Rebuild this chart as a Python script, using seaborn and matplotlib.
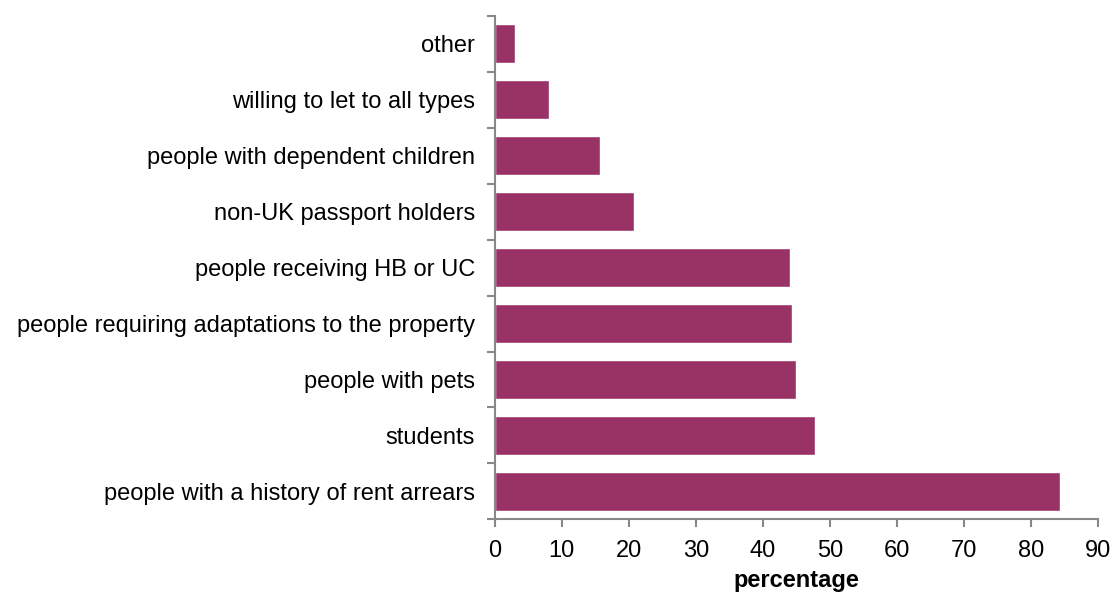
import matplotlib
matplotlib.use("Agg")
import matplotlib.pyplot as plt
import seaborn as sns
import pandas as pd
import numpy as np

categories = ["other", "willing to let to all types", "people with dependent children",
              "non-UK passport holders", "people receiving HB or UC",
              "people requiring adaptations to the property", "people with pets",
              "students", "people with a history of rent arrears"]
values = [3.0, 8.1, 15.7, 20.7, 44.0, 44.4, 44.9, 47.8, 84.3]
xticks = [0, 10, 20, 30, 40, 50, 60, 70, 80, 90]

sns.set_theme(style="white")
plt.rcParams['font.family'] = ['Liberation Sans', 'DejaVu Sans']

df = pd.DataFrame({"category": categories, "value": values})

fs = 17
fig = plt.figure(figsize=(11.12, 5.95), dpi=100)
ax = fig.add_axes([0.445, 0.127, 0.5424, 0.8466])
sns.barplot(data=df, x="value", y="category", orient="h", color="#993366",
            saturation=1, width=0.7, ax=ax)
ax.set_xlim(0, 90)
ax.set_ylim(len(categories) - 0.5, -0.5)
ax.set_xticks(xticks)
ax.set_xticklabels([str(t) for t in xticks], fontsize=fs, color="black")
ax.set_xlabel("percentage", fontsize=fs, fontweight="bold", color="black", labelpad=5)
ax.set_ylabel("")
ax.tick_params(axis="y", which="major", length=0, pad=14.4, labelsize=fs, labelcolor="black")
ax.set_yticks(np.arange(-0.5, len(categories) + 0.5, 1), minor=True)
ax.tick_params(axis="y", which="minor", length=6, width=1.5, color="#888888", direction="out", left=True)
ax.tick_params(axis="x", which="major", length=6, width=1.5, color="#888888", direction="out", bottom=True, pad=9)
for s in ["top", "right"]:
    ax.spines[s].set_visible(False)
for s in ["left", "bottom"]:
    ax.spines[s].set_visible(True)
    ax.spines[s].set_color("#888888")
    ax.spines[s].set_linewidth(1.5)
ax.grid(False)
fig.savefig("out.png", dpi=100)
